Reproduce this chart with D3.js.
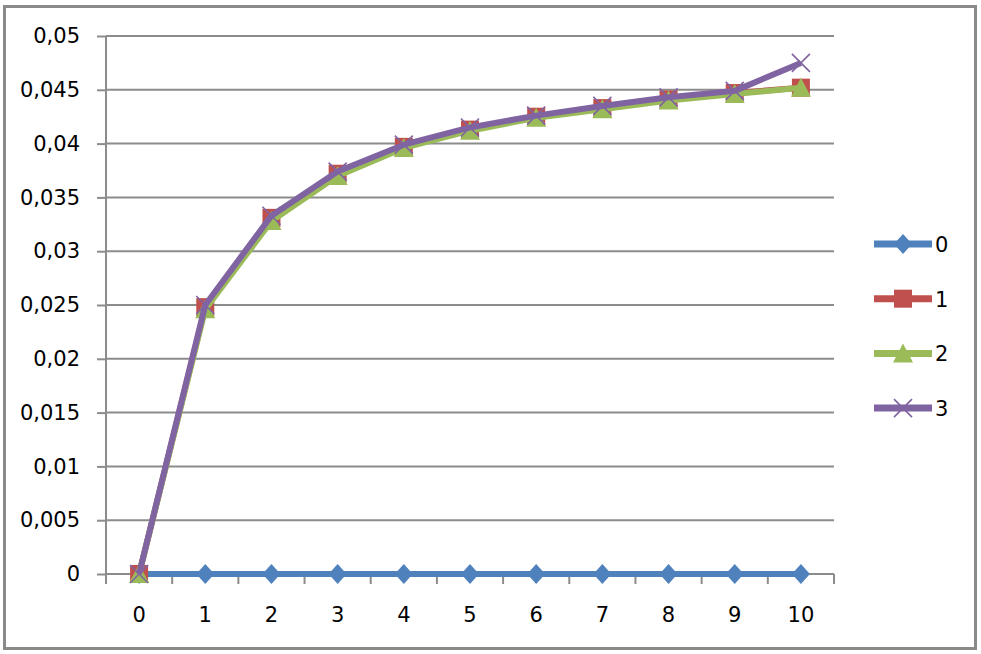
<!DOCTYPE html>
<html>
<head>
<meta charset="utf-8">
<script src="https://cdn.jsdelivr.net/npm/d3@7"></script>
<style>
  body { margin: 0; background: #fff; }
  text { font-family: "DejaVu Sans", Verdana, sans-serif; fill: #000; }
</style>
</head>
<body>
<div id="chart"></div>
<script>
// categories on the x axis
var categories = ["0", "1", "2", "3", "4", "5", "6", "7", "8", "9", "10"];

// series values
var seriesNames = ["0", "1", "2", "3"];
var s0 = [0, 0, 0, 0, 0, 0, 0, 0, 0, 0, 0];
var s1 = [0, 0.0248, 0.0331, 0.0372, 0.0397, 0.0413, 0.0425, 0.0433, 0.0441, 0.0447, 0.0452];
var s2 = [0, 0.0246, 0.0328, 0.0370, 0.0396, 0.0412, 0.0424, 0.0432, 0.0440, 0.0446, 0.0452];
var s3 = [0, 0.0250, 0.0333, 0.0374, 0.0399, 0.0415, 0.0426, 0.0435, 0.0443, 0.0449, 0.0475];

// y tick values
var yTicks = [0, 0.005, 0.01, 0.015, 0.02, 0.025, 0.03, 0.035, 0.04, 0.045, 0.05];

var colors = ["#4F81BD", "#C0504D", "#9BBB59", "#8064A2"];
var markers = ["diamond", "square", "triangle", "cross"];

var svgWidth = 981;
var svgHeight = 654;
var margin = {top: 36, left: 106};
var chartWidth = 728;
var chartHeight = 538;

var svg = d3.select("#chart")
  .append("svg")
  .attr("width", svgWidth)
  .attr("height", svgHeight);

// outer frame
svg.append("rect")
  .attr("x", 4.5).attr("y", 6.5)
  .attr("width", 971).attr("height", 642)
  .attr("fill", "#fff")
  .attr("stroke", "#8a8a8a")
  .attr("stroke-width", 3);

var chartGroup = svg.append("g")
  .attr("transform", `translate(${margin.left}, ${margin.top})`);

var xScale = d3.scaleBand().domain(categories).range([0, chartWidth]).padding(0);
var yScale = d3.scaleLinear().domain([0, 0.05]).range([chartHeight, 0]);

var locale = d3.formatLocale({decimal: ",", thousands: " ", grouping: [3], currency: ["", ""]});
var fmt = locale.format(".3~f");

// horizontal gridlines
chartGroup.selectAll(".grid")
  .data(yTicks.slice(1))
  .enter().append("line")
  .attr("x1", 0).attr("x2", chartWidth)
  .attr("y1", d => yScale(d)).attr("y2", d => yScale(d))
  .attr("stroke", "#8c8c8c")
  .attr("stroke-width", 2);

// y axis
var yAxis = chartGroup.append("g")
  .call(d3.axisLeft(yScale).tickValues(yTicks).tickFormat(fmt).tickSize(9).tickPadding(17));
yAxis.selectAll("path, line").attr("stroke", "#8c8c8c").attr("stroke-width", 2);
yAxis.select(".domain").attr("d", `M0,${chartHeight}V0`);
yAxis.selectAll("text")
  .style("font-size", "21px")
  .style("font-family", "'DejaVu Sans', Verdana, sans-serif")
  .attr("fill", "#000");

// x axis, ticks between the categories
var xAxisG = chartGroup.append("g")
  .attr("transform", `translate(0, ${chartHeight})`);
xAxisG.append("line")
  .attr("x1", 0).attr("x2", chartWidth)
  .attr("stroke", "#8c8c8c").attr("stroke-width", 2);
var xBounds = categories.map(c => xScale(c)).concat([chartWidth]);
xAxisG.selectAll(".xtick")
  .data(xBounds)
  .enter().append("line")
  .attr("x1", d => d).attr("x2", d => d)
  .attr("y1", 0).attr("y2", 10)
  .attr("stroke", "#8c8c8c").attr("stroke-width", 2);
xAxisG.selectAll(".xlabel")
  .data(categories)
  .enter().append("text")
  .attr("x", d => xScale(d) + xScale.bandwidth() / 2)
  .attr("y", 48)
  .attr("text-anchor", "middle")
  .style("font-size", "21px")
  .text(d => d);

function drawMarker(g, type, color, x, y) {
  if (type === "diamond") {
    g.append("path")
      .attr("d", `M${x},${y - 10}L${x + 9},${y}L${x},${y + 10}L${x - 9},${y}Z`)
      .attr("fill", color);
  } else if (type === "square") {
    g.append("rect")
      .attr("x", x - 9).attr("y", y - 9)
      .attr("width", 18).attr("height", 18)
      .attr("fill", color);
  } else if (type === "triangle") {
    g.append("path")
      .attr("d", `M${x},${y - 10}L${x + 10},${y + 9}L${x - 10},${y + 9}Z`)
      .attr("fill", color);
  } else {
    g.append("path")
      .attr("d", `M${x - 9},${y - 9}L${x + 9},${y + 9}M${x - 9},${y + 9}L${x + 9},${y - 9}`)
      .attr("stroke", color)
      .attr("stroke-width", 1.6)
      .attr("fill", "none");
  }
}

var allSeries = [s0, s1, s2, s3];
var line = d3.line()
  .x((d, i) => xScale(categories[i]) + xScale.bandwidth() / 2)
  .y(d => yScale(d));

allSeries.forEach(function(values, k) {
  var g = chartGroup.append("g");
  g.append("path")
    .datum(values)
    .attr("d", line)
    .attr("fill", "none")
    .attr("stroke", colors[k])
    .attr("stroke-width", 6)
    .attr("stroke-linejoin", "round");
  values.forEach(function(v, i) {
    drawMarker(g, markers[k], colors[k], xScale(categories[i]) + xScale.bandwidth() / 2, yScale(v));
  });
});

// legend
var legend = svg.append("g");
seriesNames.forEach(function(name, k) {
  var ly = 244 + k * 54.7;
  legend.append("line")
    .attr("x1", 874).attr("x2", 932)
    .attr("y1", ly).attr("y2", ly)
    .attr("stroke", colors[k])
    .attr("stroke-width", 7);
  drawMarker(legend, markers[k], colors[k], 903, ly);
  legend.append("text")
    .attr("x", 935)
    .attr("y", ly + 8)
    .style("font-size", "21px")
    .text(name);
});
</script>
</body>
</html>
